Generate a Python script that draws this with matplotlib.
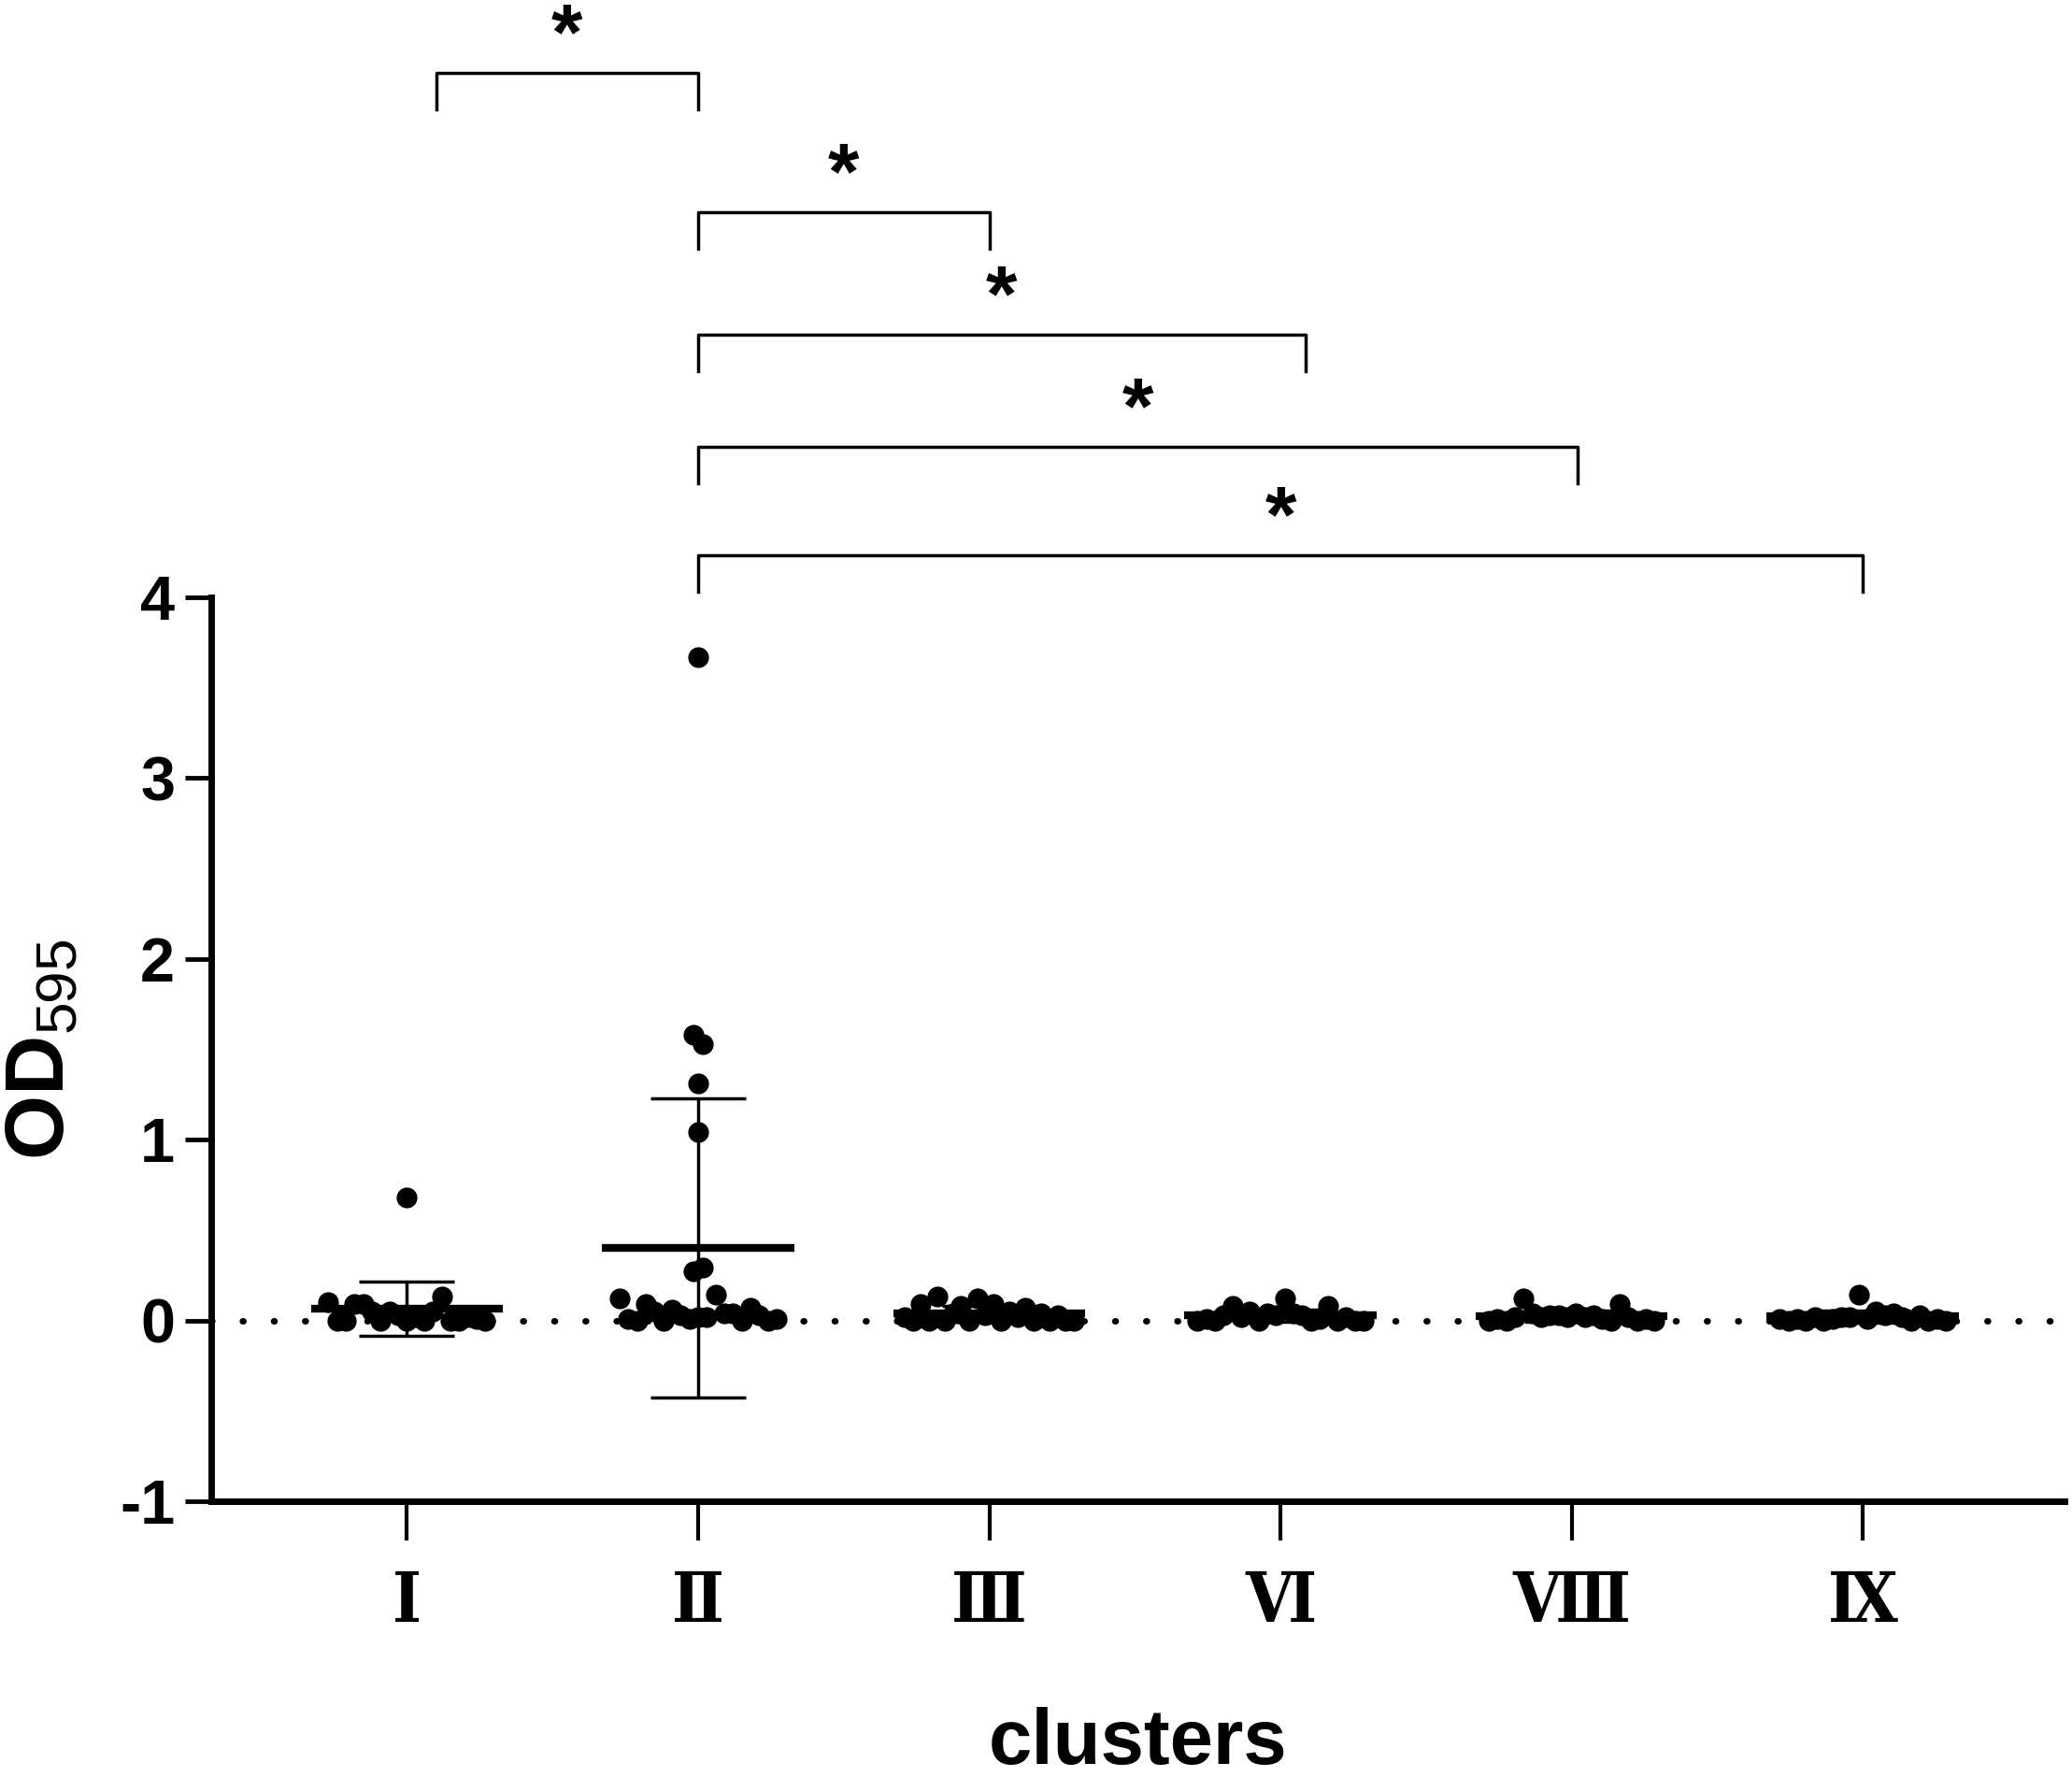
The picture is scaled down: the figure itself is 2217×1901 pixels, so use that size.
import matplotlib.pyplot as plt
import numpy as np

plt.rcParams['font.family'] = ['Liberation Sans', 'DejaVu Sans']
plt.rcParams['mathtext.fontset'] = 'custom'
plt.rcParams['mathtext.rm'] = 'Liberation Sans'
plt.rcParams['mathtext.bf'] = 'Liberation Sans:bold'

# cluster names and OD595 values per strain
clusters = ['Ⅰ', 'Ⅱ', 'Ⅲ', 'Ⅵ', 'Ⅷ', 'Ⅸ']
od_I = [0.10, 0.0, 0.0, 0.09, 0.09, 0.05, 0.0, 0.05, 0.03, 0.0, 0.68,
        0.02, 0.0, 0.05, 0.13, 0.0, 0.0, 0.02, 0.01, 0.0]
od_II = [0.12, 0.01, 0.0, 0.09, 0.05, 0.0, 0.06, 0.03, 0.01, 0.02, 3.67,
         1.58, 1.53, 1.31, 1.04, 0.27, 0.29, 0.02, 0.14, 0.04, 0.04, 0.0,
         0.07, 0.03, 0.0, 0.01]
od_III = [0.02, 0.0, 0.09, 0.0, 0.13, 0.0, 0.04, 0.08, 0.0, 0.12, 0.03,
          0.09, 0.0, 0.05, 0.02, 0.07, 0.0, 0.04, 0.0, 0.03, 0.0, 0.0]
od_VI = [0.0, 0.01, 0.0, 0.03, 0.08, 0.02, 0.05, 0.0, 0.04, 0.03, 0.12,
         0.04, 0.03, 0.0, 0.01, 0.08, 0.0, 0.02, 0.0, 0.0]
od_VIII = [0.0, 0.01, 0.0, 0.02, 0.12, 0.04, 0.02, 0.03, 0.03, 0.02, 0.04,
           0.02, 0.03, 0.01, 0.0, 0.09, 0.02, 0.0, 0.01, 0.0]
od_IX = [0.01, 0.0, 0.01, 0.0, 0.02, 0.0, 0.01, 0.02, 0.02, 0.14, 0.01,
         0.05, 0.03, 0.04, 0.02, 0.0, 0.03, 0.0, 0.01, 0.0]
groups = [od_I, od_II, od_III, od_VI, od_VIII, od_IX]

# significant comparisons (index pairs into clusters)
pairs = [(0, 1), (1, 2), (1, 3), (1, 4), (1, 5)]
pair_labels = ['*', '*', '*', '*', '*']


def swarm_offsets(vals, half=0.29, step=0.02, tol=0.15):
    # points with close values share a row and get spread sideways
    vals = np.asarray(vals)
    order = np.argsort(vals, kind='stable')
    xs = np.zeros(len(vals))
    rows = []
    for k in order:
        if rows and vals[k] - vals[rows[-1][0]] < tol:
            rows[-1].append(k)
        else:
            rows.append([k])
    for row in rows:
        row = sorted(row)
        h = min(half, step * (len(row) - 1) / 2 * 1.5)
        xs[row] = np.linspace(-h, h, len(row)) if len(row) > 1 else 0
    return xs


fig = plt.figure(figsize=(22.17, 19.01), dpi=100)
ax = fig.add_axes([0.102, 0.1552, 0.8946, 0.5087])

ax.axhline(0, color='black', lw=5, ls=(0, (0.1, 4.7)),
           dash_capstyle='round', zorder=0)

for i, vals in enumerate(groups):
    vals = np.asarray(vals)
    ax.scatter(i + swarm_offsets(vals), vals, s=256, color='black',
               linewidths=0, zorder=3)
    m = vals.mean()
    sd = vals.std(ddof=1)
    ax.errorbar(i, m, yerr=sd, color='black', elinewidth=2.5, capsize=37,
                capthick=2.5, zorder=2)
    ax.plot([i - 0.33, i + 0.33], [m, m], color='black', lw=6,
            solid_capstyle='butt', zorder=4)

# brackets above the plot
levels = [6.90, 6.13, 5.45, 4.83, 4.23]
nudge = [(0.1, 0), (0, 0), (0, 0.085), (0, 0.02), (0, 0)]
drop = 0.2
for (a, b), lab, y, (da, db) in zip(pairs, pair_labels, levels, nudge):
    x1, x2 = a + da, b + db
    ax.plot([x1, x1, x2, x2], [y - drop, y, y, y - drop], color='black',
            lw=2.5, clip_on=False)
    ax.annotate(lab, ((x1 + x2) / 2, y), xytext=(0, 11),
                textcoords='offset points', ha='center', va='baseline',
                fontsize=62, fontweight='bold', annotation_clip=False)

ax.set_xlim(-0.6715, 5.694)
ax.set_ylim(-1, 4)
ax.set_yticks([-1, 0, 1, 2, 3, 4])
ax.set_yticklabels(['-1', '0', '1', '2', '3', '4'], fontsize=48,
                   fontweight='bold')
ax.set_xticks(range(len(clusters)))
ax.set_xticklabels(clusters, fontsize=53, fontweight='bold',
                   fontstretch='condensed',
                   family=['DejaVu Serif', 'Noto Sans CJK SC'])

for side in ['top', 'right']:
    ax.spines[side].set_visible(False)
for side in ['left', 'bottom']:
    ax.spines[side].set_linewidth(5)
ax.tick_params(axis='y', length=20, width=3.5, pad=8)
ax.tick_params(axis='x', length=30, width=3, pad=22)

ax.set_xlabel('clusters', fontsize=60, fontweight='bold', labelpad=54)
ax.set_ylabel(r'$\mathbf{OD}_{\mathrm{595}}$', fontsize=64, labelpad=30)

fig.savefig('out.png', dpi=100)
